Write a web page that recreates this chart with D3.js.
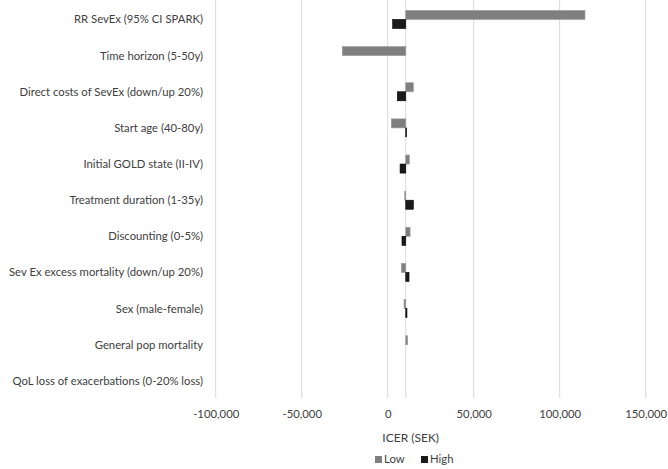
<!DOCTYPE html>
<html>
<head>
<meta charset="utf-8">
<script src="https://cdn.jsdelivr.net/npm/d3@7"></script>
<style>
  body { margin: 0; background: #fff; }
  text { font-family: Lato, sans-serif; fill: #404040; }
</style>
</head>
<body>
<div id="chart"></div>
<script>
const categories = [
    'RR SevEx (95% CI SPARK)',
    'Time horizon (5-50y)',
    'Direct costs of SevEx (down/up 20%)',
    'Start age (40-80y)',
    'Initial GOLD state (II-IV)',
    'Treatment duration (1-35y)',
    'Discounting (0-5%)',
    'Sev Ex excess mortality (down/up 20%)',
    'Sex (male-female)',
    'General pop mortality ',
    'QoL loss of exacerbations (0-20% loss)'
];
// ICER (SEK) at the low and high end of each parameter range
const lowValues = [114700, -26400, 14900, 2100, 12600, 9900, 13000, 7900, 9500, 11600, 10500];
const highValues = [2900, 10500, 5600, 11000, 7200, 14900, 8300, 12400, 11200, 10500, 10500];
const baseCase = 10500;
const xTicks = [-100000, -50000, 0, 50000, 100000, 150000];
const seriesNames = ['Low', 'High'];
const seriesColors = ['#7f7f7f', '#1a1a1a'];

const width = 668, height = 469;
const fontSize = '11.3px';
const svg = d3.select('#chart').append('svg')
    .attr('width', width)
    .attr('height', height);

const x = d3.scaleLinear()
    .domain([-100000, 150000])
    .range([215.7, 645.7]);

const y = d3.scaleBand()
    .domain(categories)
    .range([1.4, 399])
    .paddingInner(0.5)
    .paddingOuter(0.25);

const ySub = d3.scaleBand()
    .domain(seriesNames)
    .range([0, y.bandwidth()]);

const plotTop = 0, plotBottom = 398;

// gridlines
svg.append('g')
    .selectAll('line')
    .data(xTicks)
    .join('line')
    .attr('x1', d => x(d)).attr('x2', d => x(d))
    .attr('y1', plotTop).attr('y2', plotBottom)
    .attr('stroke', '#d9d9d9')
    .attr('stroke-width', 1);

// vertical axis crossing at base case
svg.append('line')
    .attr('x1', x(baseCase)).attr('x2', x(baseCase))
    .attr('y1', plotTop).attr('y2', plotBottom)
    .attr('stroke', '#d9d9d9');

// x axis labels
const xAxis = svg.append('g')
    .attr('transform', `translate(0,${plotBottom})`)
    .call(d3.axisBottom(x)
        .tickValues(xTicks)
        .tickSize(0)
        .tickPadding(12)
        .tickFormat(d => d3.format(',')(d).replace('\u2212', '-')));
xAxis.select('.domain').remove();
xAxis.selectAll('text')
    .style('font-family', 'Lato, sans-serif')
    .style('font-size', fontSize)
    .attr('fill', '#404040');

// category labels
svg.append('g')
    .selectAll('text')
    .data(categories)
    .join('text')
    .attr('x', 203)
    .attr('y', d => y(d) + y.bandwidth() / 2)
    .attr('dy', '0.35em')
    .attr('text-anchor', 'end')
    .style('font-size', fontSize)
    .text(d => d);

// bars
const rows = categories.map((c, i) => ({cat: c, vals: [lowValues[i], highValues[i]]}));
rows.forEach(r => {
    r.vals.forEach((v, j) => {
        if (v === baseCase) return;
        svg.append('rect')
            .attr('x', x(Math.min(v, baseCase)))
            .attr('y', y(r.cat) + ySub(seriesNames[j]))
            .attr('width', Math.abs(x(v) - x(baseCase)))
            .attr('height', ySub.bandwidth())
            .attr('fill', seriesColors[j])
            .attr('stroke', j === 0 ? '#9a9a9a' : '#000')
            .attr('stroke-width', 0.6);
    });
});

// axis title
svg.append('text')
    .attr('x', 410.7)
    .attr('y', 442)
    .attr('text-anchor', 'middle')
    .style('font-size', '12px')
    .text('ICER (SEK)');

// legend
const legendX = [375, 421];
const legend = svg.append('g');
seriesNames.forEach((s, i) => {
    legend.append('rect')
        .attr('x', legendX[i])
        .attr('y', 456)
        .attr('width', 7)
        .attr('height', 7)
        .attr('fill', seriesColors[i]);
    legend.append('text')
        .attr('x', legendX[i] + 9)
        .attr('y', 459.5)
        .attr('dy', '0.35em')
        .style('font-size', fontSize)
        .text(s);
});
</script>
</body>
</html>
